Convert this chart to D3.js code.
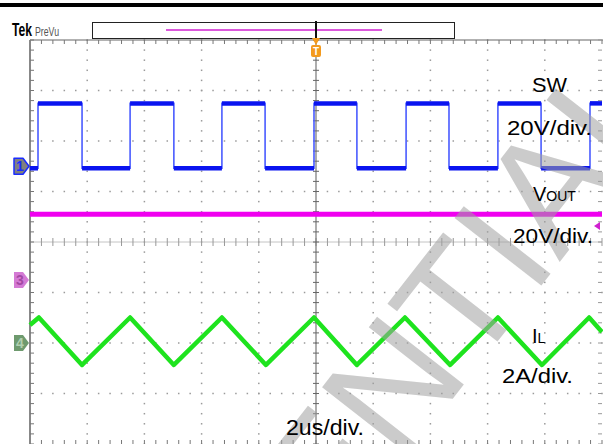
<!DOCTYPE html>
<html>
<head>
<meta charset="utf-8">
<script src="https://cdn.jsdelivr.net/npm/d3@7"></script>
<style>
  html, body { margin: 0; padding: 0; background: #fff; }
  svg { display: block; font-family: "Liberation Sans", Arial, sans-serif; }
</style>
</head>
<body>
<div id="scope"></div>
<script>
// time base: 2 us/div, 10 divisions
const timeDomainUs = [0, 20];

// CH1 switch node (20 V/div), edges, starts low
const swEdgesUs = [0.28, 1.82, 3.50, 5.03, 6.71, 8.22, 9.93, 11.43, 13.15, 14.65, 16.36, 17.87, 19.58];
const swLevelsV = [-0.8, 24.9];

// CH3 output voltage (20 V/div)
const voutTimesUs = [0, 20];
const voutV = [26, 26];

// CH4 inductor current (2 A/div)
const ilTimesUs = [0, 0.31, 1.82, 3.50, 5.03, 6.71, 8.25, 9.93, 11.43, 13.11, 14.69, 16.36, 17.90, 19.55, 20];
const ilAmps = [0.71, 1.01, -0.87, 1.01, -0.87, 1.01, -0.87, 1.01, -0.87, 1.01, -0.87, 1.01, -0.87, 1.01, 0.44];

// channel ground markers, in divisions from centre
const chOffsets = { sw: 1.5, vout: -0.75, il: -2 };
const chScales = { sw: 20, vout: 20, il: 2 };

const W = 603, H = 444;
const X0 = 30, X1 = 602, Y0 = 40, Y1 = 444;

const svg = d3.select('#scope').append('svg')
  .attr('width', W).attr('height', H);

const x = d3.scaleLinear().domain(timeDomainUs).range([X0, X1]);
const yDiv = d3.scaleLinear().domain([-4, 4]).range([Y1, Y0]);
const xDiv = d3.scaleLinear().domain([0, 10]).range([X0, X1]);
const chY = function (ch) {
  return function (v) { return yDiv(chOffsets[ch] + v / chScales[ch]); };
};

// top black rule
svg.append('rect').attr('x', 0).attr('y', 3).attr('width', W).attr('height', 4).attr('fill', '#000');

// header
svg.append('text').attr('x', 12).attr('y', 36)
  .attr('font-size', 18).attr('font-weight', 'bold')
  .attr('textLength', 20).attr('lengthAdjust', 'spacingAndGlyphs')
  .text('Tek');
svg.append('text').attr('x', 35).attr('y', 36)
  .attr('font-size', 13).attr('fill', '#555')
  .attr('textLength', 24).attr('lengthAdjust', 'spacingAndGlyphs')
  .text('PreVu');

// record view box
svg.append('rect').attr('x', 92.5).attr('y', 22.5).attr('width', 362).attr('height', 16)
  .attr('fill', '#fff').attr('stroke', '#222').attr('stroke-width', 1);
svg.append('line').attr('x1', 166).attr('x2', 382).attr('y1', 30).attr('y2', 30)
  .attr('stroke', '#d020d0').attr('stroke-width', 1.5);

// grid
const grid = svg.append('g');
const minorX = d3.range(0, 50.001, 1).map(function (i) { return xDiv(i / 5); });
const minorY = d3.range(0, 40.001, 1).map(function (i) { return yDiv(-4 + i / 5); });

// dotted major lines
[1, 2, 3, 4, 6, 7, 8, 9].forEach(function (d) {
  grid.selectAll(null).data(minorY).enter().append('rect')
    .attr('x', xDiv(d) - 0.75).attr('y', function (v) { return v - 0.75; })
    .attr('width', 1.5).attr('height', 1.5).attr('fill', '#9a9a9a');
});
[-3, -2, -1, 1, 2, 3].forEach(function (d) {
  grid.selectAll(null).data(minorX).enter().append('rect')
    .attr('x', function (v) { return v - 0.75; }).attr('y', yDiv(d) - 0.75)
    .attr('width', 1.5).attr('height', 1.5).attr('fill', '#9a9a9a');
});

// centre cross
grid.append('line').attr('x1', X0).attr('x2', X1).attr('y1', yDiv(0)).attr('y2', yDiv(0))
  .attr('stroke', '#c4c4c4').attr('stroke-width', 1);
grid.selectAll(null).data(minorX).enter().append('line')
  .attr('x1', function (v) { return v; }).attr('x2', function (v) { return v; })
  .attr('y1', yDiv(0) - 4).attr('y2', yDiv(0) + 4)
  .attr('stroke', '#999').attr('stroke-width', 1);
grid.append('line').attr('x1', xDiv(5)).attr('x2', xDiv(5)).attr('y1', Y0).attr('y2', Y1)
  .attr('stroke', '#777').attr('stroke-width', 1.2);
grid.selectAll(null).data(minorY).enter().append('line')
  .attr('x1', xDiv(5) - 3).attr('x2', xDiv(5) + 3)
  .attr('y1', function (v) { return v; }).attr('y2', function (v) { return v; })
  .attr('stroke', '#666').attr('stroke-width', 1);

// frame with ticks
grid.append('line').attr('x1', X0).attr('x2', X1 + 1).attr('y1', Y0).attr('y2', Y0)
  .attr('stroke', '#666').attr('stroke-width', 1.2);
grid.selectAll(null).data(minorX).enter().append('line')
  .attr('x1', function (v) { return v; }).attr('x2', function (v) { return v; })
  .attr('y1', Y0).attr('y2', Y0 + 4).attr('stroke', '#777');
grid.selectAll(null).data(minorX).enter().append('line')
  .attr('x1', function (v) { return v; }).attr('x2', function (v) { return v; })
  .attr('y1', Y1 - 4).attr('y2', Y1).attr('stroke', '#777');
grid.append('line').attr('x1', X0).attr('x2', X0).attr('y1', Y0).attr('y2', Y1)
  .attr('stroke', '#888').attr('stroke-width', 2);
grid.selectAll(null).data(minorY).enter().append('line')
  .attr('x1', X0).attr('x2', X0 + 4)
  .attr('y1', function (v) { return v; }).attr('y2', function (v) { return v; })
  .attr('stroke', '#777');
grid.selectAll(null).data(minorY).enter().append('line')
  .attr('x1', X1 - 4).attr('x2', X1)
  .attr('y1', function (v) { return v; }).attr('y2', function (v) { return v; })
  .attr('stroke', '#999');

// trigger position marker
svg.append('line').attr('x1', xDiv(5)).attr('x2', xDiv(5)).attr('y1', 21).attr('y2', 40)
  .attr('stroke', '#111').attr('stroke-width', 2);
svg.append('path').attr('d', d3.line()([[xDiv(5) - 4, 38], [xDiv(5) + 4, 38], [xDiv(5), 45]]))
  .attr('fill', '#f39a1e');
svg.append('rect').attr('x', xDiv(5) - 5).attr('y', 45).attr('width', 10).attr('height', 12)
  .attr('rx', 2).attr('fill', '#f39a1e');
svg.append('text').attr('x', xDiv(5)).attr('y', 55).attr('text-anchor', 'middle')
  .attr('font-size', 10).attr('font-weight', 'bold').attr('fill', '#fff').text('T');

// traces
const traces = svg.append('g');

// SW: build step points from edge list
var swPts = [[timeDomainUs[0], swLevelsV[0]]];
var lvl = 0;
swEdgesUs.forEach(function (t) {
  swPts.push([t, swLevelsV[lvl]]);
  lvl = 1 - lvl;
  swPts.push([t, swLevelsV[lvl]]);
});
swPts.push([timeDomainUs[1], swLevelsV[lvl]]);
const ySw = chY('sw');
traces.append('path')
  .attr('d', d3.line().x(function (d) { return x(d[0]); }).y(function (d) { return ySw(d[1]); })(swPts))
  .attr('fill', 'none').attr('stroke', '#4a5cff').attr('stroke-width', 1.6);
for (var i = 0; i < swPts.length; i += 2) {
  traces.append('line')
    .attr('x1', x(swPts[i][0])).attr('x2', x(swPts[i + 1][0]))
    .attr('y1', ySw(swPts[i][1])).attr('y2', ySw(swPts[i][1]))
    .attr('stroke', '#0a14f0').attr('stroke-width', 4.5);
}

// VOUT
const yVo = chY('vout');
traces.append('path')
  .attr('d', d3.line().x(function (d, i) { return x(voutTimesUs[i]); }).y(function (d) { return yVo(d); })(voutV))
  .attr('fill', 'none').attr('stroke', '#f000f0').attr('stroke-width', 5);

// IL
const yIl = chY('il');
traces.append('path')
  .attr('d', d3.line().x(function (d, i) { return x(ilTimesUs[i]); }).y(function (d) { return yIl(d); })(ilAmps))
  .attr('fill', 'none').attr('stroke', '#1ee31e').attr('stroke-width', 4.5)
  .attr('stroke-linejoin', 'round');

// trigger level arrow on right
svg.append('path').attr('d', d3.line()([[594, 226], [600, 222], [600, 230]]))
  .attr('fill', '#d020d0');

// channel markers
function chMarker(yc, fill, stroke, label, txtColor) {
  const x0 = 14;
  const g = svg.append('g');
  g.append('path')
    .attr('d', d3.line()([[x0, yc - 8], [x0 + 9, yc - 8], [x0 + 15, yc], [x0 + 9, yc + 8], [x0, yc + 8]]) + 'Z')
    .attr('fill', fill).attr('stroke', stroke).attr('stroke-width', stroke === 'none' ? 0 : 1.5)
    .attr('stroke-linejoin', 'round');
  g.append('text').attr('x', x0 + 6).attr('y', yc + 5).attr('text-anchor', 'middle')
    .attr('font-size', 14).attr('font-weight', 'bold').attr('fill', txtColor).text(label);
}
chMarker(ySw(0), '#808080', '#1a2cff', '1', '#1a2cff');
chMarker(yVo(0), '#d47ad4', 'none', '3', '#a448a4');
chMarker(yIl(0), '#6e9a6e', 'none', '4', '#b0d0b0');

// watermark
svg.append('text')
  .attr('transform', 'translate(680,108) rotate(-52)')
  .attr('text-anchor', 'end').attr('font-size', 160)
  .attr('fill', '#a0a0a0').attr('fill-opacity', 0.55)
  .text('CONFIDENTIAL');

// labels
const labels = svg.append('g').attr('fill', '#000');
function label(txt, lx, ly, len, fs) {
  labels.append('text').attr('x', lx).attr('y', ly).attr('font-size', fs || 20)
    .attr('textLength', len).attr('lengthAdjust', 'spacingAndGlyphs').text(txt);
}
label('SW', 532, 92, 35);
label('20V/div.', 507, 135, 85);
var vo = labels.append('text').attr('x', 533).attr('y', 201).attr('font-size', 20);
vo.append('tspan').text('V');
vo.append('tspan').attr('font-size', 14).text('OUT');
label('20V/div.', 513, 243, 80);
var il = labels.append('text').attr('x', 532).attr('y', 343).attr('font-size', 20);
il.append('tspan').text('I');
il.append('tspan').attr('font-size', 14).text('L');
label('2A/div.', 502, 383, 71);
label('2us/div.', 286, 435, 78, 22);
</script>
</body>
</html>
